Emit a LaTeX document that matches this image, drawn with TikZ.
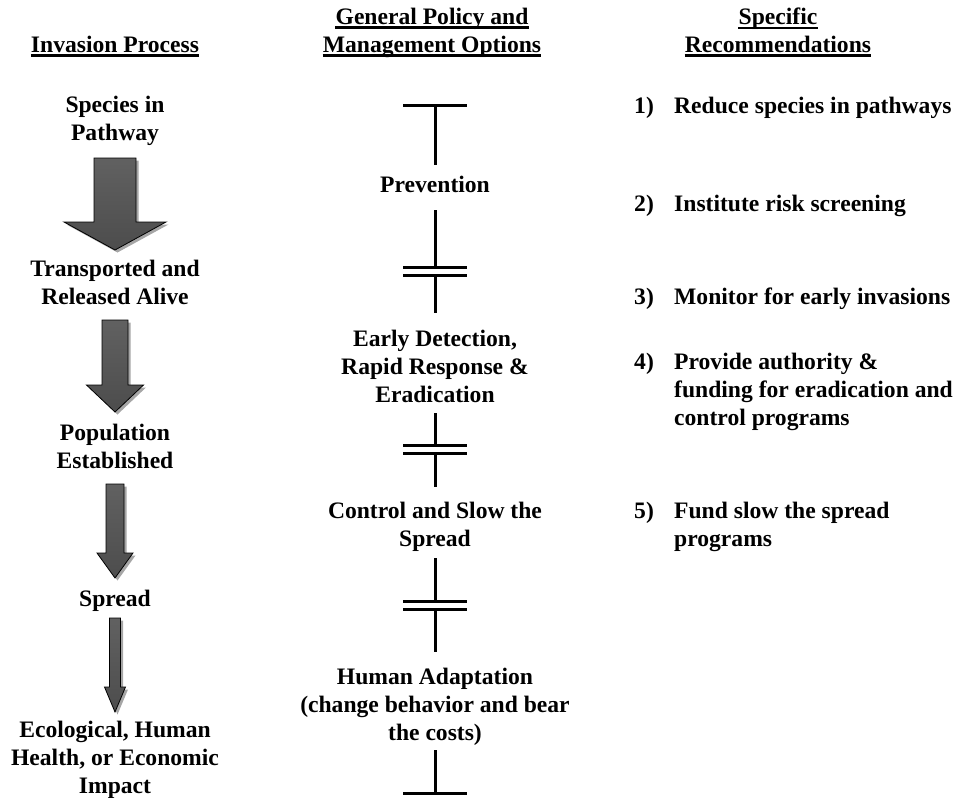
\documentclass[tikz,border=0pt]{standalone}
\usepackage{fontspec}
\setmainfont{Liberation Serif}
\newcommand\blockarrow[6]{%
  % #1 cx, #2 top, #3 shaft half width, #4 head start, #5 tip, #6 head half width
  \fill[arrowshadow] ({#1-#3+2.5},{#2+2.5}) -- ({#1+#3+2.5},{#2+2.5}) -- ({#1+#3+2.5},{#4+2.5}) -- ({#1+#6+2.5},{#4+2.5}) -- ({#1+2.5},{#5+2.5}) -- ({#1-#6+2.5},{#4+2.5}) -- ({#1-#3+2.5},{#4+2.5}) -- cycle;
  \shade[arrowbody] ({#1-#3},#2) -- ({#1+#3},#2) -- ({#1+#3},#4) -- ({#1+#6},#4) -- (#1,#5) -- ({#1-#6},#4) -- ({#1-#3},#4) -- cycle;
}
\tikzset{
  lbl/.style={font=\bfseries\fontsize{23.6}{28}\selectfont, inner sep=0pt, align=center, anchor=north},
  rec/.style={font=\bfseries\fontsize{23.6}{28}\selectfont, inner sep=0pt, align=left, anchor=north west},
  hd/.style={font=\bfseries\fontsize{23.6}{28}\selectfont, inner sep=0pt, anchor=north},
  ul/.style={line width=2.6pt},
  bar/.style={line width=3pt},
  arrowshadow/.style={fill=black!35},
  arrowbody/.style={top color=black!62, middle color=black, bottom color=black!70, draw=black, line width=0.8pt},
}
\begin{document}
\begin{tikzpicture}[x=1pt,y=-1pt]
\useasboundingbox (0,0) rectangle (956,798);

% headers
\node[hd] (hd1) at (115,35.5) {Invasion Process};
\node[hd] (hd2a) at (432,7.5) {General Policy and};
\node[hd] (hd2b) at (432,35.5) {Management Options};
\node[hd] (hd3a) at (778,7.5) {Specific};
\node[hd] (hd3b) at (778,35.5) {Recommendations};
\foreach \h in {hd1,hd2a,hd2b,hd3a,hd3b}
  \draw[ul] ([yshift=-3.5pt]\h.base west) -- ([yshift=-3.5pt]\h.base east);

% column 1: invasion process
\node[lbl] (species) at (115,95.5) {Species in\\Pathway};
\node[lbl] (transp) at (115,259.5) {Transported and\\Released Alive};
\node[lbl] (pop) at (115,423.5) {Population\\Established};
\node[lbl] (spread) at (115,589.5) {Spread};
\node[lbl] (impact) at (115,720.5) {Ecological, Human\\Health, or Economic\\Impact};

\blockarrow{115}{158}{21}{222}{250}{51}
\blockarrow{115}{320}{13}{385}{412}{28.5}
\blockarrow{115}{484}{9}{553}{578}{18}
\blockarrow{115}{618}{5.5}{687}{712}{10.5}

% column 2: policy and management options
\node[lbl] (prev) at (435,176) {Prevention};
\node[lbl] (edrr) at (435,330) {Early Detection,\\Rapid Response \&\\Eradication};
\node[lbl] (ctrl) at (435,501.5) {Control and Slow the\\Spread};
\node[lbl] (human) at (435,667.5) {Human Adaptation\\(change behavior and bear\\the costs)};

\draw[bar] (403,105) -- (467,105);
\draw[bar] (435,105) -- (435,165);
\draw[bar] (435,210) -- (435,267);
\draw[bar] (403,267) -- (467,267);
\draw[bar] (403,275) -- (467,275);
\draw[bar] (435,275) -- (435,313);
\draw[bar] (435,413) -- (435,445);
\draw[bar] (403,445) -- (467,445);
\draw[bar] (403,453) -- (467,453);
\draw[bar] (435,453) -- (435,487);
\draw[bar] (435,558) -- (435,601);
\draw[bar] (403,601) -- (467,601);
\draw[bar] (403,609) -- (467,609);
\draw[bar] (435,609) -- (435,652);
\draw[bar] (435,750) -- (435,793);
\draw[bar] (403,793) -- (467,793);

% column 3: specific recommendations
\node[rec] (n1) at (634,96.5) {1)};
\node[rec] (r1) at (674,96.5) {Reduce species in pathways};
\node[rec] (n2) at (634,194.5) {2)};
\node[rec] (r2) at (674,194.5) {Institute risk screening};
\node[rec] (n3) at (634,287.5) {3)};
\node[rec] (r3) at (674,287.5) {Monitor for early invasions};
\node[rec] (n4) at (634,352.5) {4)};
\node[rec] (r4) at (674,352.5) {Provide authority \&\\funding for eradication and\\control programs};
\node[rec] (n5) at (634,501.5) {5)};
\node[rec] (r5) at (674,501.5) {Fund slow the spread\\programs};
\end{tikzpicture}
\end{document}
